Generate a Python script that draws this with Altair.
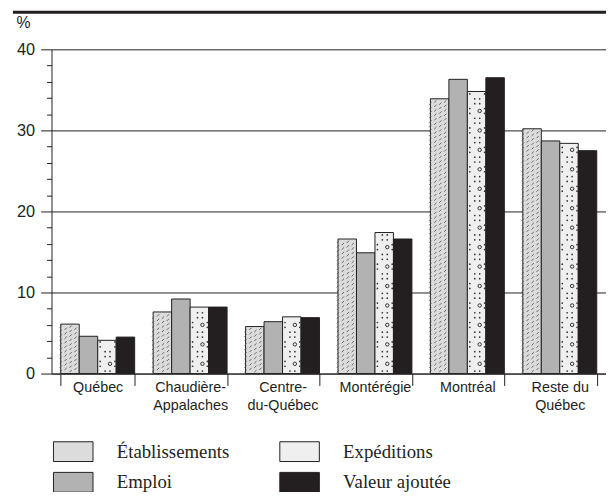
import altair as alt
import pandas as pd

categories = ["Québec", "Chaudière-Appalaches", "Centre-du-Québec",
              "Montérégie", "Montréal", "Reste du Québec"]
cat_lines = [["Québec"], ["Chaudière-", "Appalaches"], ["Centre-", "du-Québec"],
             ["Montérégie"], ["Montréal"], ["Reste du", "Québec"]]
series = ["Établissements", "Emploi", "Expéditions", "Valeur ajoutée"]
series_colors = ["#dcdcdc", "#b2b2b2", "#efefef", "#231f20"]

etablissements = [6.1, 7.6, 5.8, 16.6, 33.9, 30.2]
emploi = [4.6, 9.2, 6.4, 14.9, 36.3, 28.7]
expeditions = [4.1, 8.2, 7.0, 17.4, 34.8, 28.4]
valeur = [4.5, 8.2, 6.9, 16.6, 36.5, 27.5]

y_ticks = list(range(0, 41, 2))

vals = {"Établissements": etablissements, "Emploi": emploi,
        "Expéditions": expeditions, "Valeur ajoutée": valeur}
rows = []
for i, c in enumerate(categories):
    for s in series:
        rows.append({"cat": c, "series": s, "value": vals[s][i]})
df = pd.DataFrame(rows)

label_expr = ""
for c, lines in zip(categories, cat_lines):
    arr = "[" + ",".join("'" + l + "'" for l in lines) + "]"
    label_expr += "datum.label == '" + c + "' ? " + arr + " : "
label_expr += "datum.label"

keys16 = [s + "|" + str(j) for s in series for j in range(4)]
ink = "#231f20"

x_enc = alt.X("cat:N", sort=categories,
              scale=alt.Scale(paddingInner=0.2, paddingOuter=0.1),
              axis=alt.Axis(title=None, labelAngle=0, labelExpr=label_expr,
                            labelFont="Liberation Sans", labelFontSize=14.5,
                            labelColor=ink, labelLineHeight=18.5,
                            tickBand="extent", tickSize=12, labelPadding=-5,
                            domainColor=ink, tickColor=ink, tickWidth=1))

y_axis = alt.Axis(values=y_ticks, tickCount=30,
                  labelExpr="datum.value % 10 === 0 ? datum.label : ''",
                  labelOverlap=False,
                  tickSize={"condition": {"test": "datum.value % 10 !== 0", "value": 5}, "value": 11},
                  grid=True,
                  gridColor={"condition": {"test": "datum.value % 10 !== 0", "value": "transparent"}, "value": ink},
                  gridWidth=1, domainColor=ink, tickColor=ink, tickWidth=1,
                  labelFont="Liberation Sans", labelFontSize=16.5, labelColor=ink,
                  labelPadding=6,
                  titleAngle=0, titleAlign="left", titleBaseline="alphabetic",
                  titleX=-36, titleY=-22, titleFont="Liberation Sans",
                  titleFontSize=16, titleFontWeight="normal", titleColor=ink)

y_scale = alt.Scale(domain=[0, 40], nice=False)

base = alt.Chart(df)

bars = base.mark_bar(stroke=ink, strokeWidth=1).encode(
    x=x_enc,
    xOffset=alt.XOffset("series:N", sort=series,
                        scale=alt.Scale(domain=series, paddingInner=0, paddingOuter=0)),
    y=alt.Y("value:Q", title="%", scale=y_scale, axis=y_axis),
    fill=alt.Fill("series:N",
                  scale=alt.Scale(domain=series, range=series_colors),
                  legend=alt.Legend(orient="none", legendX=7, legendY=392,
                                    columns=2, title=None,
                                    symbolType="M-1.414,-0.707H1.414V0.707H-1.414Z",
                                    symbolSize=800, symbolStrokeColor=ink,
                                    symbolStrokeWidth=1, symbolOpacity=1,
                                    labelFont="Liberation Serif", labelFontSize=19,
                                    labelColor=ink, labelOffset=29,
                                    columnPadding=49, rowPadding=4)),
)

# Établissements texture
etab_dots = base.transform_filter(
    alt.datum.series == "Établissements"
).transform_calculate(
    ys="sequence(0.3, datum.value - 0.15, 0.55)"
).transform_flatten(["ys"]).transform_calculate(
    sub="[0,1,2,3]"
).transform_flatten(["sub"]).transform_calculate(
    yd="datum.ys + (datum.sub % 2) * 0.275",
    key="datum.series + '|' + datum.sub"
).transform_filter("datum.yd < datum.value - 0.15").mark_point(
    shape="M-1,1L1,-1", filled=False, stroke="#555", strokeWidth=0.9,
    size=5, opacity=1
).encode(
    x=alt.X("cat:N", sort=categories),
    xOffset=alt.XOffset("key:N", scale=alt.Scale(domain=keys16, paddingInner=0, paddingOuter=0)),
    y=alt.Y("yd:Q", title="%", scale=y_scale),
)

# Expéditions texture: diamond lattice of dots
exp_dots = base.transform_filter(
    alt.datum.series == "Expéditions"
).transform_calculate(
    ks="sequence(0, datum.value, 2.4)"
).transform_flatten(["ks"]).transform_calculate(
    sub="[0,1,2,3]"
).transform_flatten(["sub"]).transform_calculate(
    ph="[0,1]"
).transform_flatten(["ph"]).transform_calculate(
    dd="(datum.sub == 0 || datum.sub == 3) ? 0.75 : 0.25"
).transform_calculate(
    yd="datum.ks + (datum.ph == 0 ? datum.dd * 1.2 : 2.4 - datum.dd * 1.2)",
    key="datum.series + '|' + datum.sub"
).transform_filter("datum.yd < datum.value - 0.15").mark_circle(
    size=3, color="#333", opacity=1
).encode(
    x=alt.X("cat:N", sort=categories),
    xOffset=alt.XOffset("key:N", scale=alt.Scale(domain=keys16, paddingInner=0, paddingOuter=0)),
    y=alt.Y("yd:Q", title="%", scale=y_scale),
)

exp_circles = base.transform_filter(
    alt.datum.series == "Expéditions"
).transform_calculate(
    ks="sequence(1.2, datum.value - 0.5, 2.4)"
).transform_flatten(["ks"]).mark_point(
    shape="circle", filled=False, stroke="#333", strokeWidth=1, size=12, opacity=1
).encode(
    x=alt.X("cat:N", sort=categories),
    xOffset=alt.XOffset("series:N", scale=alt.Scale(domain=series, paddingInner=0, paddingOuter=0)),
    y=alt.Y("ks:Q", title="%", scale=y_scale),
)

top_rule = alt.Chart(pd.DataFrame({"a": [0]})).mark_rule(
    strokeWidth=3, color=ink
).encode(x=alt.value(-39), x2=alt.value(562), y=alt.value(-37.5))

chart = alt.layer(bars, etab_dots, exp_dots, exp_circles, top_rule).resolve_scale(
    xOffset="independent"
).properties(
    width=561, height=328,
    padding={"left": 44, "top": 39, "right": 0, "bottom": 117},
    autosize=alt.AutoSizeParams(type="none"),
).configure_view(stroke=None)

chart.save("out.html", embed_options={"renderer": "svg", "actions": False})
